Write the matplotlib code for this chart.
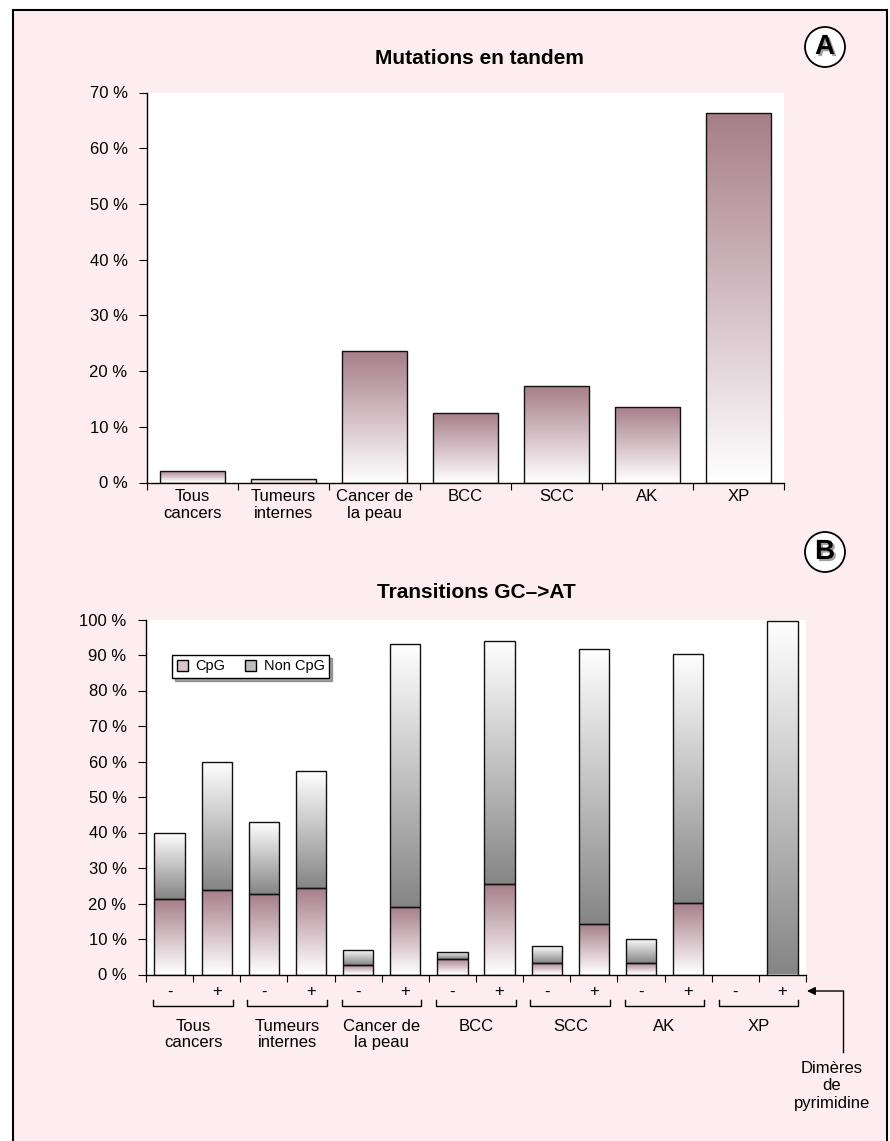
import numpy as np
import matplotlib
matplotlib.use("Agg")
import matplotlib.pyplot as plt
import matplotlib.patheffects as pe
from matplotlib.colors import LinearSegmentedColormap
from matplotlib.patches import Rectangle, Ellipse, Patch
from matplotlib.lines import Line2D
from matplotlib.transforms import blended_transform_factory

plt.rcParams['font.family'] = ['Liberation Sans', 'DejaVu Sans']

# Panel A: tandem mutations (%)
cat_a = ['Tous\ncancers', 'Tumeurs\ninternes', 'Cancer de\nla peau', 'BCC', 'SCC', 'AK', 'XP']
tandem = [2.1, 0.7, 23.6, 12.5, 17.4, 13.6, 66.4]

# Panel B: GC->AT transitions (%), without (-) / with (+) pyrimidine dimers
groups_b = ['Tous\ncancers', 'Tumeurs\ninternes', 'Cancer de\nla peau', 'BCC', 'SCC', 'AK', 'XP']
signs_b = ['-', '+'] * 7
cpg = [21.2, 23.8, 22.8, 24.4, 2.6, 19.1, 4.3, 25.4, 3.2, 14.3, 3.2, 20.1, 0.0, 0.0]
non_cpg = [18.8, 36.2, 20.2, 32.8, 4.3, 74.0, 2.1, 68.6, 4.7, 77.4, 6.9, 70.2, 0.0, 99.5]

W, H = 890, 1141
PINK = '#fdedf0'
MAUVE = '#a67d89'
GREY = '#858585'
FS = 12

fig = plt.figure(figsize=(W / 100, H / 100), dpi=100)
fig.patch.set_facecolor('white')


def fx(px):
    return px / W


def fy(py):
    return 1 - py / H


# pink panel with black frame
fig.add_artist(Rectangle((fx(13), fy(1150)), fx(887) - fx(13), fy(10) - fy(1150),
                         transform=fig.transFigure, facecolor=PINK,
                         edgecolor='black', lw=1.5, zorder=-10))


def gradient_bars(ax, x, heights, bottoms, width, c_top, c_bottom):
    cmap = LinearSegmentedColormap.from_list('g', [c_bottom, c_top])
    grad = np.linspace(0, 1, 256).reshape(-1, 1)
    bars = ax.bar(x, heights, width, bottom=bottoms, facecolor='none',
                  edgecolor='#111111', lw=1.0, zorder=3)
    for b in bars:
        if b.get_height() <= 0:
            b.set_visible(False)
            continue
        x0, y0 = b.get_x(), b.get_y()
        im = ax.imshow(grad, cmap=cmap, origin='lower', aspect='auto',
                       extent=[x0, x0 + b.get_width(), y0, y0 + b.get_height()],
                       zorder=2, interpolation='bilinear')
        im.set_clip_path(b)
    return bars


def style_axes(ax, ymax):
    for s in ['top', 'right']:
        ax.spines[s].set_visible(False)
    for s in ['left', 'bottom']:
        ax.spines[s].set_linewidth(1.0)
    ax.set_ylim(0, ymax)
    ticks = np.arange(0, ymax + 1, 10)
    ax.set_yticks(ticks)
    ax.set_yticklabels([f'{t} %' for t in ticks])
    ax.tick_params(axis='y', length=6, pad=8, labelsize=FS)


# ---- Panel A ----
axA = fig.add_axes([fx(147), fy(482.5), fx(784) - fx(147), fy(92.5) - fy(482.5)])
xa = np.arange(len(cat_a)) + 0.5
gradient_bars(axA, xa, tandem, 0, 0.71, MAUVE, '#ffffff')
style_axes(axA, 70)
axA.set_xlim(0, len(cat_a))
axA.set_xticks(np.arange(len(cat_a) + 1))
axA.set_xticklabels([])
axA.set_xticks(xa, minor=True)
axA.set_xticklabels(cat_a, minor=True, fontsize=FS, linespacing=1.15)
axA.tick_params(axis='x', which='major', length=5)
axA.tick_params(axis='x', which='minor', length=0, pad=5)

# ---- Panel B ----
axB = fig.add_axes([fx(146), fy(974.5), fx(806) - fx(146), fy(619.5) - fy(974.5)])
xb = np.arange(len(cpg)) + 0.5
gradient_bars(axB, xb, cpg, 0, 0.64, MAUVE, '#ffffff')
gradient_bars(axB, xb, non_cpg, cpg, 0.64, '#ffffff', GREY)
style_axes(axB, 100)
axB.set_xlim(0, len(cpg))
axB.set_xticks(np.arange(len(cpg) + 1))
axB.set_xticklabels([])
axB.tick_params(axis='x', length=5)

tr = blended_transform_factory(axB.transData, axB.transAxes)
for x, s in zip(xb, signs_b):
    axB.text(x, -0.049, s, transform=tr, ha='center', va='center', fontsize=FS)
for g, name in enumerate(groups_b):
    x0, x1 = 2 * g + 0.15, 2 * g + 1.84
    axB.add_line(Line2D([x0, x0, x1, x1], [-0.072, -0.089, -0.089, -0.072],
                        transform=tr, color='black', lw=1.0, clip_on=False))
    axB.text(2 * g + 1, -0.124, name, transform=tr, ha='center', va='top',
             fontsize=FS, linespacing=1.15)

leg = axB.legend(handles=[Patch(facecolor='#dcc4cb', edgecolor='black', label='CpG'),
                          Patch(facecolor='#bdbdbd', edgecolor='black', label='Non CpG')],
                 loc='upper left', bbox_to_anchor=(0.04, 0.9), ncol=2, fontsize=10.5,
                 frameon=True, fancybox=False, shadow=True, handlelength=0.8,
                 handleheight=0.8, columnspacing=1.3, handletextpad=0.5,
                 borderpad=0.3, borderaxespad=0)
leg.get_frame().set_edgecolor('black')
leg.get_frame().set_linewidth(1.0)

# arrow pointing to the "+" columns
axB.annotate('', xy=(807, H - 991), xycoords='figure pixels',
             xytext=(843.5, H - 991), textcoords='figure pixels',
             arrowprops=dict(arrowstyle='-|>', color='black', lw=1.0,
                             shrinkA=0, shrinkB=0, mutation_scale=12))
fig.add_artist(Line2D([fx(843), fx(843)], [fy(991), fy(1052)],
                      transform=fig.transFigure, color='black', lw=1.0))
fig.text(fx(832), fy(1086), 'Dimères\nde\npyrimidine', ha='center', va='center',
         fontsize=FS, linespacing=1.2)

# titles and panel letters
fig.text(fx(479), fy(58), 'Mutations en tandem', ha='center', va='center',
         fontsize=15, fontweight='bold')
fig.text(fx(476), fy(593), 'Transitions GC–>AT', ha='center', va='center',
         fontsize=15, fontweight='bold')
for letter, cy in [('A', 47), ('B', 552)]:
    fig.add_artist(Ellipse((fx(825), fy(cy)), 40 / W, 40 / H, transform=fig.transFigure,
                           facecolor='white', edgecolor='black', lw=1.3))
    fig.text(fx(825), fy(cy), letter, ha='center', va='center', fontsize=20,
             fontweight='bold',
             path_effects=[pe.SimplePatchShadow(offset=(1.5, -1.5), shadow_rgbFace='#777777',
                                                alpha=0.7), pe.Normal()])

fig.savefig('out.png', dpi=100)
